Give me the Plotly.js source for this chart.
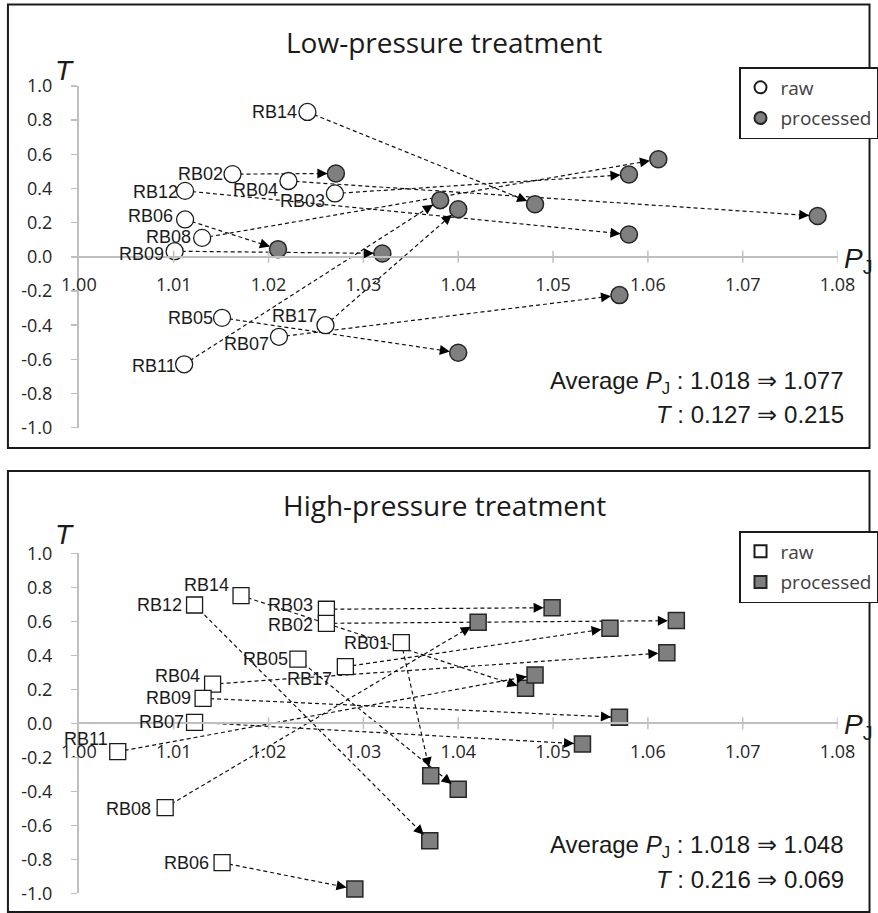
<!DOCTYPE html>
<html><head><meta charset="utf-8">
<script src="https://cdn.plot.ly/plotly-3.0.1.min.js"></script>
<style>html,body{margin:0;padding:0;background:#fff;}</style>
</head><body><div id="chart" style="width:878px;height:913px;"></div>
<script>
// ---------- data ----------
const lowNames   = ['RB14','RB02','RB04','RB12','RB03','RB06','RB08','RB09','RB05','RB17','RB07','RB11'];
const lowRawPj   = [1.0241,1.0162,1.0221,1.0112,1.0270,1.0112,1.0130,1.0101,1.0151,1.0260,1.0211,1.0111];
const lowRawT    = [0.848,0.484,0.444,0.386,0.371,0.219,0.111,0.033,-0.357,-0.400,-0.468,-0.629];
const lowProcPj  = [1.0481,1.0271,1.0779,1.0580,1.0580,1.0210,1.0611,1.0320,1.0400,1.0400,1.0570,1.0381];
const lowProcT   = [0.308,0.488,0.239,0.131,0.482,0.045,0.571,0.020,-0.561,0.279,-0.224,0.332];

const highNames  = ['RB12','RB14','RB03','RB02','RB01','RB05','RB17','RB04','RB09','RB07','RB11','RB08','RB06'];
const highRawPj  = [1.0122,1.0171,1.0261,1.0261,1.0340,1.0231,1.0281,1.0141,1.0131,1.0122,1.0041,1.0091,1.0151];
const highRawT   = [0.696,0.751,0.671,0.588,0.474,0.378,0.333,0.231,0.147,0.006,-0.167,-0.496,-0.820];
const highProcPj = [1.0370,1.0471,1.0499,1.0630,1.0371,1.0400,1.0560,1.0620,1.0570,1.0531,1.0481,1.0421,1.0291];
const highProcT  = [-0.691,0.206,0.680,0.604,-0.308,-0.388,0.559,0.415,0.035,-0.122,0.284,0.594,-0.975];

const lowAvgPj  = ['1.018','1.077'];
const lowAvgT   = ['0.127','0.215'];
const highAvgPj = ['1.018','1.048'];
const highAvgT  = ['0.216','0.069'];

const xTicks = [1.00,1.01,1.02,1.03,1.04,1.05,1.06,1.07,1.08];
const yTicks = [-1.0,-0.8,-0.6,-0.4,-0.2,0.0,0.2,0.4,0.6,0.8,1.0];

// ---------- layout constants (styles / positions) ----------
const W = 878, H = 913;
const xRange = [1.00, 1.08], yRange = [-1, 1];
const xDom = [79.5/W, 844.3/W];
const topDom = [1-427.7/H, 1-86/H];
const botDom = [1-893.3/H, 1-553.3/H];
const lowLabelDx  = [-8,-8,-8,-5,-8,-10,-9,-9,-7,-6,-8,-6];
const lowLabelDy  = [0,0,9,1,8,-3,-1,3,0,-9,7,2];
const highLabelDx = [-11,-10,-11,-11,-10,-8,-11,-11,-10,-9,-8,-12,-11];
const highLabelDy = [0,-11,-4,2,0,0,12,-8,0,0,-13,1,0];
const GREY = '#bfbfbf';
const MR = 8.5; // processed marker radius px

const pxPerX = W*(xDom[1]-xDom[0])/(xRange[1]-xRange[0]);
const ppyTop = H*(topDom[1]-topDom[0])/(yRange[1]-yRange[0]);
const ppyBot = H*(botDom[1]-botDom[0])/(yRange[1]-yRange[0]);

function segs(x0,y0,x1,y1){
  const xs=[],ys=[];
  for(let i=0;i<x0.length;i++){xs.push(x0[i],x1[i],null);ys.push(y0[i],y1[i],null);}
  return {xs,ys};
}
const lowSeg = segs(lowRawPj,lowRawT,lowProcPj,lowProcT);
const highSeg = segs(highRawPj,highRawT,highProcPj,highProcT);
const dashLine = {color:'#111111', width:1.2, dash:'4px,3px'};

const traces = [
  {x:lowSeg.xs,y:lowSeg.ys,xaxis:'x',yaxis:'y',mode:'lines',line:dashLine,showlegend:false,hoverinfo:'skip'},
  {x:lowRawPj,y:lowRawT,xaxis:'x',yaxis:'y',mode:'markers',name:'raw',legend:'legend',legendgroup:'a',
   marker:{symbol:'circle',size:17,color:'#ffffff',line:{color:'#1a1a1a',width:1.3}},cliponaxis:false},
  {x:lowProcPj,y:lowProcT,xaxis:'x',yaxis:'y',mode:'markers',name:'processed',legend:'legend',legendgroup:'b',
   marker:{symbol:'circle',size:17,color:'#7f7f7f',line:{color:'#262626',width:1.5}},cliponaxis:false},
  {x:highSeg.xs,y:highSeg.ys,xaxis:'x2',yaxis:'y2',mode:'lines',line:dashLine,showlegend:false,hoverinfo:'skip'},
  {x:highRawPj,y:highRawT,xaxis:'x2',yaxis:'y2',mode:'markers',name:'raw',legend:'legend2',legendgroup:'c',
   marker:{symbol:'square',size:16,color:'#ffffff',line:{color:'#1a1a1a',width:1.3}},cliponaxis:false},
  {x:highProcPj,y:highProcT,xaxis:'x2',yaxis:'y2',mode:'markers',name:'processed',legend:'legend2',legendgroup:'d',
   marker:{symbol:'square',size:16,color:'#7f7f7f',line:{color:'#262626',width:1.5}},cliponaxis:false}
];

const tickFont = {family:'Open Sans', size:18, color:'#262626'};
function xAx(dom){
  return {domain:xDom, range:xRange, anchor:'free', position:(dom[0]+dom[1])/2,
    showline:true, linecolor:GREY, linewidth:2, ticks:'', tickvals:xTicks,
    ticktext:xTicks.map(v=>v.toFixed(2)), tickfont:tickFont, ticklabelstandoff:12,
    showgrid:false, zeroline:false, fixedrange:true};
}
function yAx(dom, xa){
  return {domain:dom, range:yRange, anchor:xa, showline:true, linecolor:GREY, linewidth:2,
    ticks:'outside', ticklen:6, tickwidth:1.5, tickcolor:GREY, tickvals:yTicks,
    ticktext:yTicks.map(v=>v.toFixed(1)), tickfont:tickFont, ticklabelstandoff:15,
    showgrid:false, zeroline:false, fixedrange:true};
}

const shapes = [
  {type:'rect',xref:'paper',yref:'paper',x0:8/W,x1:876.5/W,y0:1-448/H,y1:1-4.5/H,line:{color:'#1a1a1a',width:2}},
  {type:'rect',xref:'paper',yref:'paper',x0:8/W,x1:876.5/W,y0:1-912/H,y1:1-471/H,line:{color:'#1a1a1a',width:2}}
];
[['x','y'],['x2','y2']].forEach(([xr,yr])=>{
  xTicks.slice(1).forEach(t=>{
    shapes.push({type:'line',xref:xr,yref:yr,ysizemode:'pixel',yanchor:0,x0:t,x1:t,y0:-6,y1:6,
      line:{color:GREY,width:1.5}});
  });
});

const annotations = [];
function addLabels(names,xs,ys,dx,dy,xr,yr){
  names.forEach((n,i)=>annotations.push({x:xs[i],y:ys[i],xref:xr,yref:yr,text:n,showarrow:false,
    xanchor:'right',yanchor:'middle',xshift:dx[i],yshift:-dy[i],
    font:{family:'Liberation Sans',size:18,color:'#1a1a1a'}}));
}
function addArrows(x0,y0,x1,y1,xr,yr,ppy){
  for(let i=0;i<x0.length;i++){
    const L = Math.hypot((x1[i]-x0[i])*pxPerX,(y1[i]-y0[i])*ppy);
    annotations.push({x:x1[i],y:y1[i],ax:x0[i],ay:y0[i],xref:xr,yref:yr,axref:xr,ayref:yr,
      text:'',showarrow:true,arrowhead:2,arrowsize:2,arrowwidth:1,arrowcolor:'#000',
      standoff:MR,startstandoff:Math.max(0,L-MR-10)});
  }
}
addArrows(lowRawPj,lowRawT,lowProcPj,lowProcT,'x','y',ppyTop);
addArrows(highRawPj,highRawT,highProcPj,highProcT,'x2','y2',ppyBot);
addLabels(lowNames,lowRawPj,lowRawT,lowLabelDx,lowLabelDy,'x','y');
addLabels(highNames,highRawPj,highRawT,highLabelDx,highLabelDy,'x2','y2');

function paperText(text,px,py,opts){
  annotations.push(Object.assign({text:text,xref:'paper',yref:'paper',x:px/W,y:1-py/H,showarrow:false,
    xanchor:'center',yanchor:'middle'},opts));
}
const titleFont = {family:'Open Sans',size:28,color:'#1a1a1a'};
paperText('Low-pressure treatment',448,42,{font:titleFont});
paperText('High-pressure treatment',448,505,{font:titleFont});
const axFont = {family:'Liberation Sans',size:28,color:'#1a1a1a'};
paperText('<i>T</i>',65,71,{font:axFont});
paperText('<i>T</i>',65,534,{font:axFont});
paperText('<i>P</i><sub>J</sub>',849,260,{font:axFont,xanchor:'left'});
paperText('<i>P</i><sub>J</sub>',849,726,{font:axFont,xanchor:'left'});
const avgFont = {family:'Liberation Sans',size:24,color:'#1a1a1a'};
paperText('Average <i>P</i><sub>J</sub> : '+lowAvgPj[0]+' ⇒ '+lowAvgPj[1],853,382,{font:avgFont,xanchor:'right'});
paperText('<i>T</i> : '+lowAvgT[0]+' ⇒ '+lowAvgT[1],853,414,{font:avgFont,xanchor:'right'});
paperText('Average <i>P</i><sub>J</sub> : '+highAvgPj[0]+' ⇒ '+highAvgPj[1],853,846,{font:avgFont,xanchor:'right'});
paperText('<i>T</i> : '+highAvgT[0]+' ⇒ '+highAvgT[1],853,879,{font:avgFont,xanchor:'right'});

function legendAt(py){
  return {x:745/W,y:1-py/H,xanchor:'left',yanchor:'top',bordercolor:'#1a1a1a',borderwidth:1.5,bgcolor:'#ffffff',
    font:{family:'Open Sans',size:19,color:'#404040'},itemsizing:'constant',traceorder:'grouped',tracegroupgap:3};
}

const layout = {
  width:W, height:H, margin:{l:0,r:0,t:0,b:0}, paper_bgcolor:'#ffffff', plot_bgcolor:'rgba(0,0,0,0)',
  showlegend:true,
  xaxis:xAx(topDom), yaxis:yAx(topDom,'x'),
  xaxis2:xAx(botDom), yaxis2:yAx(botDom,'x2'),
  legend:legendAt(67), legend2:legendAt(531),
  shapes:shapes, annotations:annotations
};
Plotly.newPlot('chart',traces,layout,{staticPlot:true,displayModeBar:false});
</script></body></html>
